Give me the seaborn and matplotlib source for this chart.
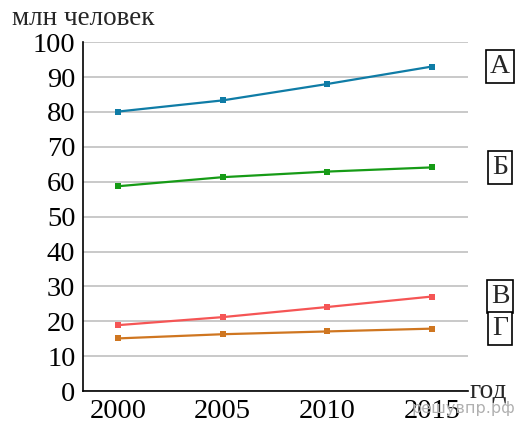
import pandas as pd
import matplotlib
matplotlib.use("Agg")
import matplotlib.pyplot as plt
import seaborn as sns

years = [2000, 2005, 2010, 2015]
series_a = [80.1, 83.3, 88.0, 93.0]
series_b = [58.7, 61.3, 62.9, 64.1]
series_v = [18.9, 21.2, 24.1, 27.1]
series_g = [15.1, 16.3, 17.1, 17.9]
labels = ['А', 'Б', 'В', 'Г']
colors = ['#0f7ca6', '#169b16', '#f55555', '#cf7620']

df = pd.DataFrame({
    'year': years * 4,
    'value': series_a + series_b + series_v + series_g,
    'series': [l for l in labels for _ in years],
})

sns.set_style('white')
plt.rcParams['font.family'] = ['Liberation Serif', 'DejaVu Serif']

fig = plt.figure(figsize=(5.16, 4.21), dpi=100)
ax = fig.add_axes([0.161, 0.071, 0.746, 0.829])

sns.lineplot(data=df, x='year', y='value', hue='series', palette=colors,
             marker='s', markersize=5, markeredgewidth=0, linewidth=1.6,
             legend=False, ax=ax)

ax.set_xlim(1998.33, 2016.72)
ax.set_ylim(0, 100)
ax.set_xticks(years)
ax.set_yticks(range(0, 101, 10))
ax.tick_params(axis='both', direction='inout', length=9, width=1.2,
               labelsize=20.5, colors='black', pad=1)
ax.set_xlabel('')
ax.set_ylabel('')
ax.yaxis.grid(True, color='#c0c0c0', linewidth=1.2)
ax.set_axisbelow(True)
for s in ['top', 'right']:
    ax.spines[s].set_visible(False)
for s in ['left', 'bottom']:
    ax.spines[s].set_color('black')
    ax.spines[s].set_linewidth(1.2)

# series labels in boxes
ends = [series_a[-1], series_b[-1], series_v[-1], series_g[-1]]
for lab, yv in zip(labels, ends):
    ax.text(1.083, yv, lab, transform=ax.get_yaxis_transform(), fontsize=20,
            ha='center', va='center',
            bbox=dict(boxstyle='square,pad=0.15', fc='white', ec='black', lw=1.2))

fig.text(0.023, 0.957, 'млн человек', fontsize=19.5, ha='left', va='center')
fig.text(0.91, 0.071, 'год', fontsize=19.7, ha='left', va='center')
fig.text(0.998, 0.03, 'решувпр.рф', fontsize=11.5, ha='right', va='center',
         color='#b0b0b0', family=['DejaVu Sans'])

fig.savefig('out.png', dpi=100)
